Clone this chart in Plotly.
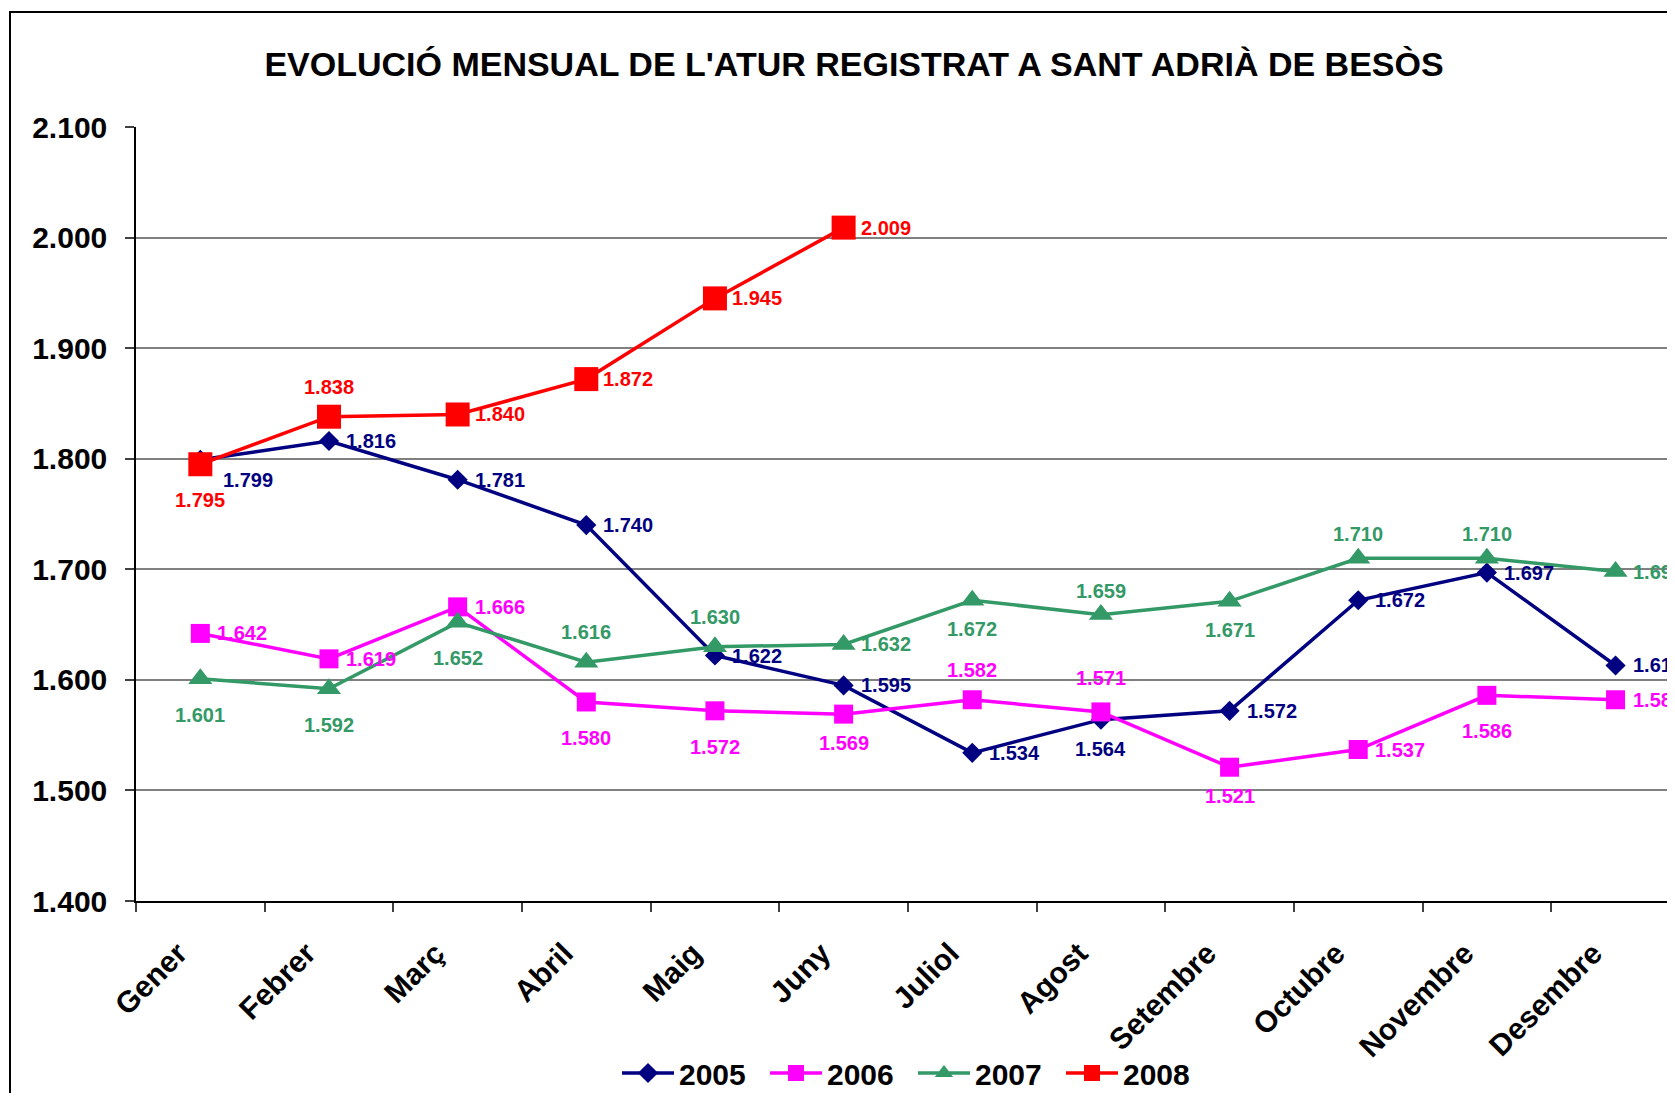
import plotly.graph_objects as go

months = ["Gener", "Febrer", "Març", "Abril", "Maig", "Juny", "Juliol",
          "Agost", "Setembre", "Octubre", "Novembre", "Desembre"]

v2005 = [1799, 1816, 1781, 1740, 1622, 1595, 1534, 1564, 1572, 1672, 1697, 1613]
v2006 = [1642, 1619, 1666, 1580, 1572, 1569, 1582, 1571, 1521, 1537, 1586, 1582]
v2007 = [1601, 1592, 1652, 1616, 1630, 1632, 1672, 1659, 1671, 1710, 1710, 1698]
v2008 = [1795, 1838, 1840, 1872, 1945, 2009]

# label placement: r = right, b/bc = below (normal/close), t/tc/tf = above, br = below-right
pos2005 = ["br", "r", "r", "r", "r", "r", "r", "bc", "r", "r", "r", "r"]
pos2006 = ["r", "r", "r", "b", "b", "bc", "t", "tf", "bc", "r", "b", "r"]
pos2007 = ["b", "b", "b", "t", "t", "r", "bc", "tc", "bc", "tc", "tc", "r"]
pos2008 = ["b", "t", "r", "r", "r", "r"]

yticks = [1400, 1500, 1600, 1700, 1800, 1900, 2000, 2100]


def fmt(v):
    return f"{v:,}".replace(",", ".")


FONT = "Liberation Sans, Arial, sans-serif"

series = [
    ("2005", v2005, pos2005, "#000080", "diamond", 15.5),
    ("2006", v2006, pos2006, "#FF00FF", "square", 19),
    ("2007", v2007, pos2007, "#339966", "triangle-up", 21),
    ("2008", v2008, pos2008, "#FF0000", "square", 24),
]

OFFS = {
    "r": dict(xanchor="left", yanchor="middle", xshift=15, yshift=0),
    "b": dict(xanchor="center", yanchor="middle", xshift=0, yshift=-36),
    "bc": dict(xanchor="center", yanchor="middle", xshift=0, yshift=-29),
    "t": dict(xanchor="center", yanchor="middle", xshift=0, yshift=30),
    "tc": dict(xanchor="center", yanchor="middle", xshift=0, yshift=24),
    "tf": dict(xanchor="center", yanchor="middle", xshift=0, yshift=34),
    "br": dict(xanchor="left", yanchor="middle", xshift=21, yshift=-20),
}

fig = go.Figure()
annotations = []
for name, vals, pos, color, sym, size in series:
    fig.add_trace(go.Scatter(
        x=months[:len(vals)], y=vals, name=name,
        mode="lines+markers",
        line=dict(color=color, width=3.5),
        marker=dict(symbol=sym, size=size, color=color, line=dict(width=0)),
        cliponaxis=False,
    ))
    for m, v, p in zip(months, vals, pos):
        annotations.append(dict(
            x=m, y=v, xref="x", yref="y", text=fmt(v), showarrow=False,
            font=dict(family=FONT, size=20, color=color, weight="bold"),
            **OFFS[p]))

W, H = 1659, 1085
OFF = 8  # page body margin
L, R, T, B = 128, 0, 119, 192
pw, ph = W - L - R, H - T - B


def fx(sx):
    return (sx - OFF - L) / pw


def fy(sy):
    return (H - B - (sy - OFF)) / ph


fig.add_shape(type="rect", xref="paper", yref="paper",
              x0=fx(10), x1=fx(1720), y0=fy(1150), y1=fy(12),
              line=dict(color="black", width=2), fillcolor="rgba(0,0,0,0)", layer="below")

fig.update_layout(
    width=W, height=H,
    margin=dict(l=L, r=R, t=T, b=B, pad=0, autoexpand=False),
    paper_bgcolor="white", plot_bgcolor="white",
    font=dict(family=FONT, color="black"),
    annotations=annotations,
    title=dict(text="<b>EVOLUCIÓ MENSUAL DE L'ATUR REGISTRAT A SANT ADRIÀ DE BESÒS</b>",
               font=dict(family=FONT, size=34, color="black"),
               x=fx(854), xref="paper", xanchor="center",
               y=1 - (64 - OFF) / H, yref="container", yanchor="middle"),
    showlegend=True,
    legend=dict(orientation="h", x=fx(913), xanchor="center", xref="paper",
                y=1 - (1073 - OFF) / H, yref="container", yanchor="middle",
                font=dict(family=FONT, size=30, color="black", weight="bold"),
                bgcolor="rgba(0,0,0,0)", itemwidth=52, traceorder="normal",
                entrywidth=81, entrywidthmode="pixels"),
    xaxis=dict(type="category", categoryorder="array", categoryarray=months,
               range=[-0.5, 11.40], tickson="boundaries", ticks="outside", ticklen=9,
               tickcolor="#404040", tickwidth=1.5, automargin=False,
               showline=True, linecolor="black", linewidth=1.5, showgrid=False,
               tickangle=-45, ticklabelstandoff=21, ticklabelshift=-22,
               tickfont=dict(family=FONT, size=30, color="black", weight="bold")),
    yaxis=dict(range=[1400, 2100], tickvals=yticks, ticktext=[fmt(v) for v in yticks],
               ticks="outside", ticklen=9, tickcolor="#404040", tickwidth=1.5,
               showline=True, linecolor="black", linewidth=1.5, automargin=False,
               showgrid=True, gridcolor="#808080", gridwidth=1.5, zeroline=False,
               ticklabelstandoff=12,
               tickfont=dict(family=FONT, size=30, color="black", weight="bold")),
)

fig.write_html("out.html")
